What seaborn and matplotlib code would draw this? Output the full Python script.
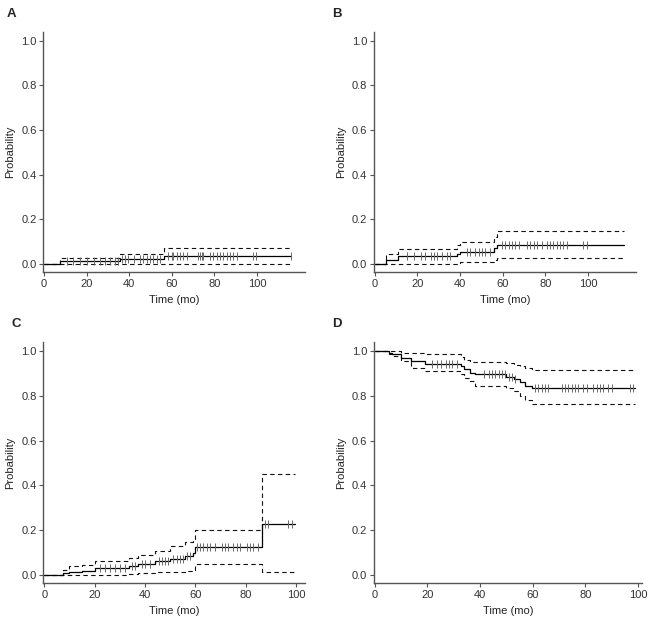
import numpy as np
import pandas as pd
import matplotlib
matplotlib.use("Agg")
import matplotlib.pyplot as plt
import seaborn as sns

sns.set_theme(style="ticks")
plt.rcParams["font.family"] = ["Liberation Sans", "DejaVu Sans"]

# panel A - cumulative incidence
a_time = [0, 7.5, 35.5, 56.5, 116]
a_est = [0, 0.012, 0.02, 0.037, 0.037]
a_upper = [0, 0.027, 0.046, 0.07, 0.07]
a_lower = [0, 0, 0, 0, 0]
a_cens = [10.6, 13.8, 16.9, 20, 23.2, 26.3, 28.6, 31, 33.3, 34.9, 36.5, 38, 39.6, 42,
          45, 46.6, 48.2, 49.8, 51.3, 52.9, 54.5, 58.4, 60, 60.7, 62.3, 63.8, 65.4, 67,
          72.5, 73.2, 74, 74.8, 78, 79.5, 81.1, 82.6, 84.2, 85.8, 87.3, 88.9, 90.5,
          98, 99.5, 116]

# panel B
b_time = [0, 5.5, 11, 38.5, 40, 56, 57.5, 117]
b_est = [0, 0.016, 0.033, 0.043, 0.053, 0.07, 0.086, 0.086]
b_upper = [0, 0.045, 0.066, 0.085, 0.097, 0.12, 0.147, 0.147]
b_lower = [0, 0, 0, 0.002, 0.006, 0.015, 0.027, 0.027]
b_cens = [15.3, 18.4, 21.5, 23.8, 26.2, 27.7, 29.3, 31.6, 34, 35.5, 43.3, 44.9, 47.2,
          48.8, 50.3, 51.9, 54.2, 59.7, 61.2, 62.8, 64.3, 65.9, 67.5, 71.3, 72.9, 74.5,
          76, 78.4, 80.7, 82.2, 83.8, 85.4, 86.9, 88.5, 90, 97.8, 99.4]

# panel C
c_time = [0, 7.4, 10, 15, 20, 33.5, 37.4, 44, 50, 56, 59, 60, 86.4, 99.6]
c_est = [0, 0.008, 0.012, 0.018, 0.03, 0.04, 0.05, 0.06, 0.071, 0.083, 0.096, 0.126,
         0.229, 0.229]
c_upper = [0, 0.021, 0.037, 0.045, 0.06, 0.075, 0.087, 0.105, 0.13, 0.146, 0.16, 0.2,
           0.45, 0.45]
c_lower = [0, 0, 0, 0, 0.001, 0.004, 0.007, 0.01, 0.013, 0.017, 0.022, 0.047, 0.012,
           0.012]
c_cens = [22.2, 24.2, 26.2, 28.2, 30.2, 32.1, 34.8, 36.1, 38.8, 40, 42, 45.4, 46.7, 48,
          49.3, 51.3, 52.6, 54, 55.3, 56.6, 57.9, 60.6, 61.9, 63.2, 64.6, 65.9, 67.9,
          70.5, 71.8, 73.1, 75.1, 76.5, 77.8, 80.4, 81.7, 83.1, 85, 87.7, 89, 97, 98.3]

# panel D - survival
d_time = [0, 5.4, 6.7, 9.8, 13.6, 19, 32.6, 34, 36, 38, 50, 53, 55, 57, 59.7, 99]
d_est = [1, 0.992, 0.985, 0.97, 0.956, 0.944, 0.933, 0.92, 0.904, 0.896, 0.886, 0.874,
         0.86, 0.844, 0.834, 0.834]
d_upper = [1, 1, 1, 0.993, 0.993, 0.985, 0.975, 0.96, 0.95, 0.95, 0.945, 0.94, 0.935,
           0.925, 0.915, 0.915]
d_lower = [1, 0.985, 0.978, 0.956, 0.926, 0.911, 0.896, 0.88, 0.867, 0.844, 0.833,
           0.82, 0.8, 0.78, 0.763, 0.763]
d_cens = [21.8, 23.7, 25, 26.9, 28.2, 29.4, 31.3, 41.4, 43.3, 44.6, 45.8, 47.1, 48.4,
          49.6, 50.9, 52.1, 53.4, 61, 62.2, 63.5, 64.8, 66, 71.1, 72.3, 73.6, 74.9, 76.1,
          77.4, 79.3, 80.6, 83.1, 84.3, 85.6, 86.9, 88.8, 90, 97, 98.2]

panels = [
    ("A", a_time, a_est, a_upper, a_lower, a_cens, 122.5),
    ("B", b_time, b_est, b_upper, b_lower, b_cens, 122.5),
    ("C", c_time, c_est, c_upper, c_lower, c_cens, 103.5),
    ("D", d_time, d_est, d_upper, d_lower, d_cens, 101.5),
]
boxes = {
    "A": [0.0664, 0.564, 0.399, 0.385],
    "B": [0.571, 0.564, 0.400, 0.385],
    "C": [0.0664, 0.0657, 0.399, 0.386],
    "D": [0.571, 0.0657, 0.409, 0.386],
}
letter_pos = {"A": (0.010, 0.987), "B": (0.507, 0.987), "C": (0.017, 0.491), "D": (0.507, 0.491)}

fig = plt.figure(figsize=(6.55, 6.24), dpi=100)
spine_col = "#555555"

for name, t, est, up, lo, cens, xmax in panels:
    ax = fig.add_axes(boxes[name])
    df = pd.DataFrame({"time": t, "est": est, "upper": up, "lower": lo})
    for col in ["upper", "lower"]:
        sns.lineplot(data=df, x="time", y=col, ax=ax, color="#111111", lw=0.8,
                     drawstyle="steps-post", estimator=None, sort=False,
                     linestyle=(0, (4, 3)))
    sns.lineplot(data=df, x="time", y="est", ax=ax, color="black", lw=0.9,
                 drawstyle="steps-post", estimator=None, sort=False)
    # censor marks sit on the curve
    idx = np.searchsorted(t, cens, side="right") - 1
    cdf = pd.DataFrame({"time": cens, "est": np.array(est)[idx]})
    sns.scatterplot(data=cdf, x="time", y="est", ax=ax, marker="|", s=28,
                    color="#6a6a6a", linewidth=0.7, zorder=3)

    ax.set_xlim(-0.3, xmax)
    ax.set_ylim(-0.037, 1.04)
    ax.set_xticks(range(0, 101, 20))
    ax.set_yticks(np.arange(0, 1.01, 0.2))
    ax.set_yticklabels([f"{v:.1f}" for v in np.arange(0, 1.01, 0.2)])
    ax.set_xlabel("Time (mo)", fontsize=8, color="#222222", labelpad=4)
    ax.set_ylabel("Probability", fontsize=8, color="#222222", labelpad=4)
    ax.tick_params(labelsize=8, labelcolor="#333333", length=3, width=0.8,
                   color=spine_col, pad=2)
    sns.despine(ax=ax)
    for s in ["left", "bottom"]:
        ax.spines[s].set_color(spine_col)
        ax.spines[s].set_linewidth(1.0)
    fig.text(*letter_pos[name], name, fontsize=9.5, fontweight="bold",
             ha="left", va="top")

fig.savefig("out.png", dpi=100)
